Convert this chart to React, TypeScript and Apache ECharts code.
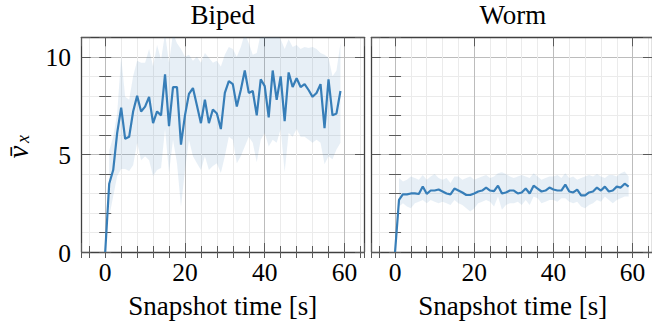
import { useEffect, useRef } from "react";
import * as echarts from "echarts";

// Snapshot times [s]
const times = [
  0, 1, 2, 3, 4, 5, 6, 7, 8, 9, 10, 11, 12, 13, 14, 15, 16, 17, 18, 19,
  20, 21, 22, 23, 24, 25, 26, 27, 28, 29, 30, 31, 32, 33, 34, 35, 36, 37, 38, 39,
  40, 41, 42, 43, 44, 45, 46, 47, 48, 49, 50, 51, 52, 53, 54, 55, 56, 57, 58, 59,
];

const bipedMean = [
  0, 3.5, 4.2, 6.1, 7.4, 5.8, 5.9, 7.2, 8.0, 7.2,
  7.45, 7.95, 6.6, 7.2, 7.0, 9.1, 6.45, 8.45, 8.45, 5.5,
  7.0, 8.1, 8.4, 7.5, 6.6, 7.8, 6.6, 7.3, 7.1, 6.3,
  8.15, 8.75, 8.6, 7.45, 8.3, 9.3, 8.15, 8.25, 7.0, 8.85,
  8.5, 6.9, 9.3, 7.8, 9.0, 6.7, 9.2, 8.45, 8.9, 8.45,
  8.6, 8.3, 7.95, 8.15, 8.6, 6.35, 8.85, 7.0, 7.1, 8.25,
];
const bipedUpper = [
  null, 5.2, 5.9, 7.1, 10.0, 7.95, 7.8, 9.0, 9.8, 9.7,
  9.7, 10.4, 9.5, 10.6, 9.85, 11.2, 9.7, 11.2, 10.7, 10.4,
  10.0, 10.1, 9.8, 10.0, 9.7, 10.2, 9.95, 9.7, 9.8, 9.5,
  10.1, 10.5, 10.4, 10.0, 10.5, 11.2, 10.7, 10.1, 10.2, 11.2,
  11.2, 11.2, 11.2, 11.2, 10.9, 10.4, 10.9, 10.5, 10.6, 10.4,
  10.5, 10.45, 10.5, 10.4, 10.2, 10.1, 9.95, 9.0, 9.3, 10.7,
];
const bipedLower = [
  null, 1.8, 2.85, 3.9, 4.25, 4.25, 4.15, 4.45, 5.6, 4.7,
  4.9, 4.7, 3.9, 4.2, 4.3, 6.3, 4.05, 5.75, 4.55, 2.3,
  4.2, 5.75, 4.9, 4.55, 4.2, 4.9, 4.2, 4.4, 4.55, 4.05,
  4.9, 5.9, 5.75, 4.55, 4.9, 5.4, 5.9, 5.6, 4.6, 5.75,
  6.1, 5.4, 5.75, 5.6, 6.3, 4.1, 6.1, 5.9, 6.3, 5.9,
  5.9, 5.75, 5.6, 5.75, 5.6, 4.5, 4.9, 4.75, 5.25, 5.6,
];

const wormMean = [
  0, 2.67, 2.96, 2.95, 3.0, 3.0, 2.97, 3.36, 2.98, 3.15,
  3.15, 3.2, 3.1, 3.0, 2.95, 3.25, 3.15, 3.05, 2.92, 2.92,
  3.0, 3.1, 3.15, 3.3, 3.15, 3.12, 3.4, 3.0, 3.05, 3.15,
  3.15, 3.0, 3.05, 3.25, 3.0, 3.4, 3.25, 3.1, 3.15, 3.3,
  3.2, 3.15, 3.15, 3.45, 3.1, 3.05, 3.2, 2.9, 2.9, 3.05,
  3.1, 3.3, 3.15, 3.35, 3.1, 3.15, 3.35, 3.3, 3.5, 3.35,
];
const wormUpper = [
  null, 3.79, 3.61, 3.7, 3.87, 3.79, 3.7, 3.95, 3.7, 3.87,
  4.0, 3.79, 3.7, 3.79, 3.53, 3.87, 3.87, 3.7, 3.79, 3.87,
  3.7, 3.79, 3.87, 3.95, 3.79, 3.87, 4.04, 4.08, 4.0, 3.87,
  3.79, 3.87, 3.95, 3.87, 3.79, 4.04, 3.87, 3.7, 3.79, 3.87,
  3.87, 3.95, 3.79, 4.04, 3.79, 3.87, 3.7, 3.79, 3.87, 3.95,
  3.87, 4.0, 3.87, 3.79, 3.95, 3.95, 3.87, 4.04, 4.13, 3.87,
];
const wormLower = [
  null, 2.33, 2.5, 2.33, 2.24, 2.5, 2.58, 2.67, 2.5, 2.67,
  2.58, 2.5, 2.58, 2.5, 2.41, 2.67, 2.5, 2.41, 2.24, 2.07,
  2.24, 2.5, 2.58, 2.67, 2.58, 2.33, 2.84, 2.16, 2.41, 2.5,
  2.5, 2.58, 2.41, 2.67, 2.41, 2.84, 2.76, 2.5, 2.58, 2.67,
  2.67, 2.58, 2.76, 2.76, 2.58, 2.5, 2.58, 2.33, 2.24, 2.41,
  2.5, 2.67, 2.58, 2.84, 2.67, 2.5, 2.67, 2.76, 2.84, 2.84,
];

const panelTitles = ["Biped", "Worm"];
const xAxisTitle = "Snapshot time [s]";
const yAxisSymbol = "v\u0304";
const yAxisSubscript = "x";
const xTickLabels = [0, 20, 40, 60];
const yTickLabels = [0, 5, 10];
const xRange = [-5.9, 64.9];
const yRange = [0, 11];
const xMajorStep = 20;
const xMinorStep = 4;
const yMajorStep = 5;
const yMinorStep = 1;

const FONT = "Liberation Serif";
const LINE = "#377eb8";
const BAND = "rgba(55,126,184,0.12)";
const FRAME = "#404040";
const TICK = "#5a5a5a";
const MAJOR_GRID = "#bcbcbc";
const MINOR_GRID = "#ebebeb";

const pair = (ys: (number | null)[]) => times.map((t, i) => [t, ys[i]]);
const bandRows = (lo: (number | null)[], hi: (number | null)[]) =>
  times
    .map((t, i) => [t, lo[i], hi[i]])
    .filter((r) => r[1] != null && r[2] != null) as number[][];

const txt = (
  text: string,
  x: number,
  y: number,
  size: number,
  align: string,
  italic = false
) => ({
  type: "text",
  x,
  y,
  silent: true,
  style: {
    text,
    fontFamily: FONT,
    fontSize: size,
    fontStyle: italic ? "italic" : "normal",
    fill: "#000",
    align,
    verticalAlign: "middle",
    textAlign: align,
    textVerticalAlign: "middle",
  },
});

export default function App() {
  const ref = useRef<HTMLDivElement>(null);

  useEffect(() => {
    if (!ref.current) return;
    const chart = echarts.init(ref.current, null, { renderer: "svg" });

    const grids = [
      { left: 81.7, top: 37.3, width: 282.3, height: 214.7 },
      { left: 371.7, top: 37.3, width: 282.3, height: 214.7 },
    ];

    const xAxes: any[] = [];
    const yAxes: any[] = [];
    const series: any[] = [];

    const datasets = [
      { mean: bipedMean, upper: bipedUpper, lower: bipedLower },
      { mean: wormMean, upper: wormUpper, lower: wormLower },
    ];

    const tick = (length: number) => ({
      show: true,
      inside: true,
      length,
      lineStyle: { color: TICK, width: 1 },
    });
    const frame = { show: true, onZero: false, lineStyle: { color: FRAME, width: 1.3 } };

    grids.forEach((_, g) => {
      const xCommon = { type: "value", gridIndex: g, min: xRange[0], max: xRange[1], axisLabel: { show: false } };
      const yCommon = { type: "value", gridIndex: g, min: yRange[0], max: yRange[1], axisLabel: { show: false } };
      const xMinor = { ...xCommon, minInterval: xMinorStep, maxInterval: xMinorStep, splitNumber: 18 };
      const xMajor = { ...xCommon, minInterval: xMajorStep, maxInterval: xMajorStep, splitNumber: 3 };
      const yMinor = { ...yCommon, minInterval: yMinorStep, maxInterval: yMinorStep, splitNumber: 11 };
      const yMajor = { ...yCommon, minInterval: yMajorStep, maxInterval: yMajorStep, splitNumber: 2 };

      xAxes.push({
        ...xMinor,
        position: "bottom",
        axisLine: { show: false },
        axisTick: tick(6),
        splitLine: { show: true, lineStyle: { color: MINOR_GRID, width: 1 } },
      });
      xAxes.push({
        ...xMajor,
        position: "bottom",
        axisLine: frame,
        axisTick: tick(9),
        splitLine: { show: true, lineStyle: { color: MAJOR_GRID, width: 1 } },
      });
      xAxes.push({ ...xMinor, position: "top", axisLine: { show: false }, axisTick: tick(6), splitLine: { show: false } });
      xAxes.push({ ...xMajor, position: "top", axisLine: frame, axisTick: tick(9), splitLine: { show: false } });

      yAxes.push({
        ...yMinor,
        position: "left",
        axisLine: { show: false },
        axisTick: tick(6),
        splitLine: { show: true, lineStyle: { color: MINOR_GRID, width: 1 } },
      });
      yAxes.push({
        ...yMajor,
        position: "left",
        axisLine: frame,
        axisTick: tick(9),
        splitLine: { show: true, lineStyle: { color: MAJOR_GRID, width: 1 } },
      });
      yAxes.push({ ...yMinor, position: "right", axisLine: { show: false }, axisTick: tick(6), splitLine: { show: false } });
      yAxes.push({ ...yMajor, position: "right", axisLine: frame, axisTick: tick(9), splitLine: { show: false } });

      const d = datasets[g];
      const xi = g * 4 + 1;
      const yi = g * 4 + 1;
      const rows = bandRows(d.lower, d.upper);
      series.push({
        type: "custom",
        xAxisIndex: xi,
        yAxisIndex: yi,
        clip: true,
        silent: true,
        z: 1,
        encode: { x: 0, y: [1, 2] },
        data: rows,
        renderItem: (params: any, api: any) => {
          if (params.dataIndex !== 0) return null;
          const top = rows.map((r) => api.coord([r[0], r[2]]));
          const bottom = rows.map((r) => api.coord([r[0], r[1]])).reverse();
          return {
            type: "polygon",
            shape: { points: top.concat(bottom) },
            style: { fill: BAND, stroke: "none" },
          };
        },
      });
      series.push({
        type: "line",
        xAxisIndex: xi,
        yAxisIndex: yi,
        data: pair(d.mean),
        showSymbol: false,
        symbol: "none",
        lineStyle: { color: LINE, width: 2.2 },
        z: 3,
      });
    });

    chart.setOption({
      animation: false,
      grid: grids,
      xAxis: xAxes,
      yAxis: yAxes,
      series,
    });

    // Texts: positioned through the chart's own axis scales.
    const texts: any[] = [];
    grids.forEach((gr, g) => {
      const cx = gr.left + gr.width / 2;
      const bottom = gr.top + gr.height;
      texts.push(txt(panelTitles[g], cx, 15, 27, "center"));
      texts.push(txt(xAxisTitle, cx, 305.5, 27, "center"));
      xTickLabels.forEach((v) => {
        const px = chart.convertToPixel({ xAxisIndex: g * 4 + 1 } as any, v) as number;
        texts.push(txt(String(v), px, bottom + 20, 25.5, "center"));
      });
    });
    yTickLabels.forEach((v) => {
      const py = chart.convertToPixel({ yAxisIndex: 1 } as any, v) as number;
      texts.push(txt(String(v), 71, py + 1, 25.5, "right"));
    });
    texts.push({
      type: "group",
      x: 18,
      y: 146,
      rotation: Math.PI / 2,
      silent: true,
      children: [
        txt(yAxisSymbol, -6, 0, 29, "center", true),
        txt(yAxisSubscript, 7, 5, 18, "center", true),
      ],
    });

    chart.setOption({ graphic: texts });

    return () => chart.dispose();
  }, []);

  return (
    <div
      ref={ref}
      style={{ position: "fixed", left: 0, top: 0, width: 652, height: 326, background: "#fff" }}
    />
  );
}
